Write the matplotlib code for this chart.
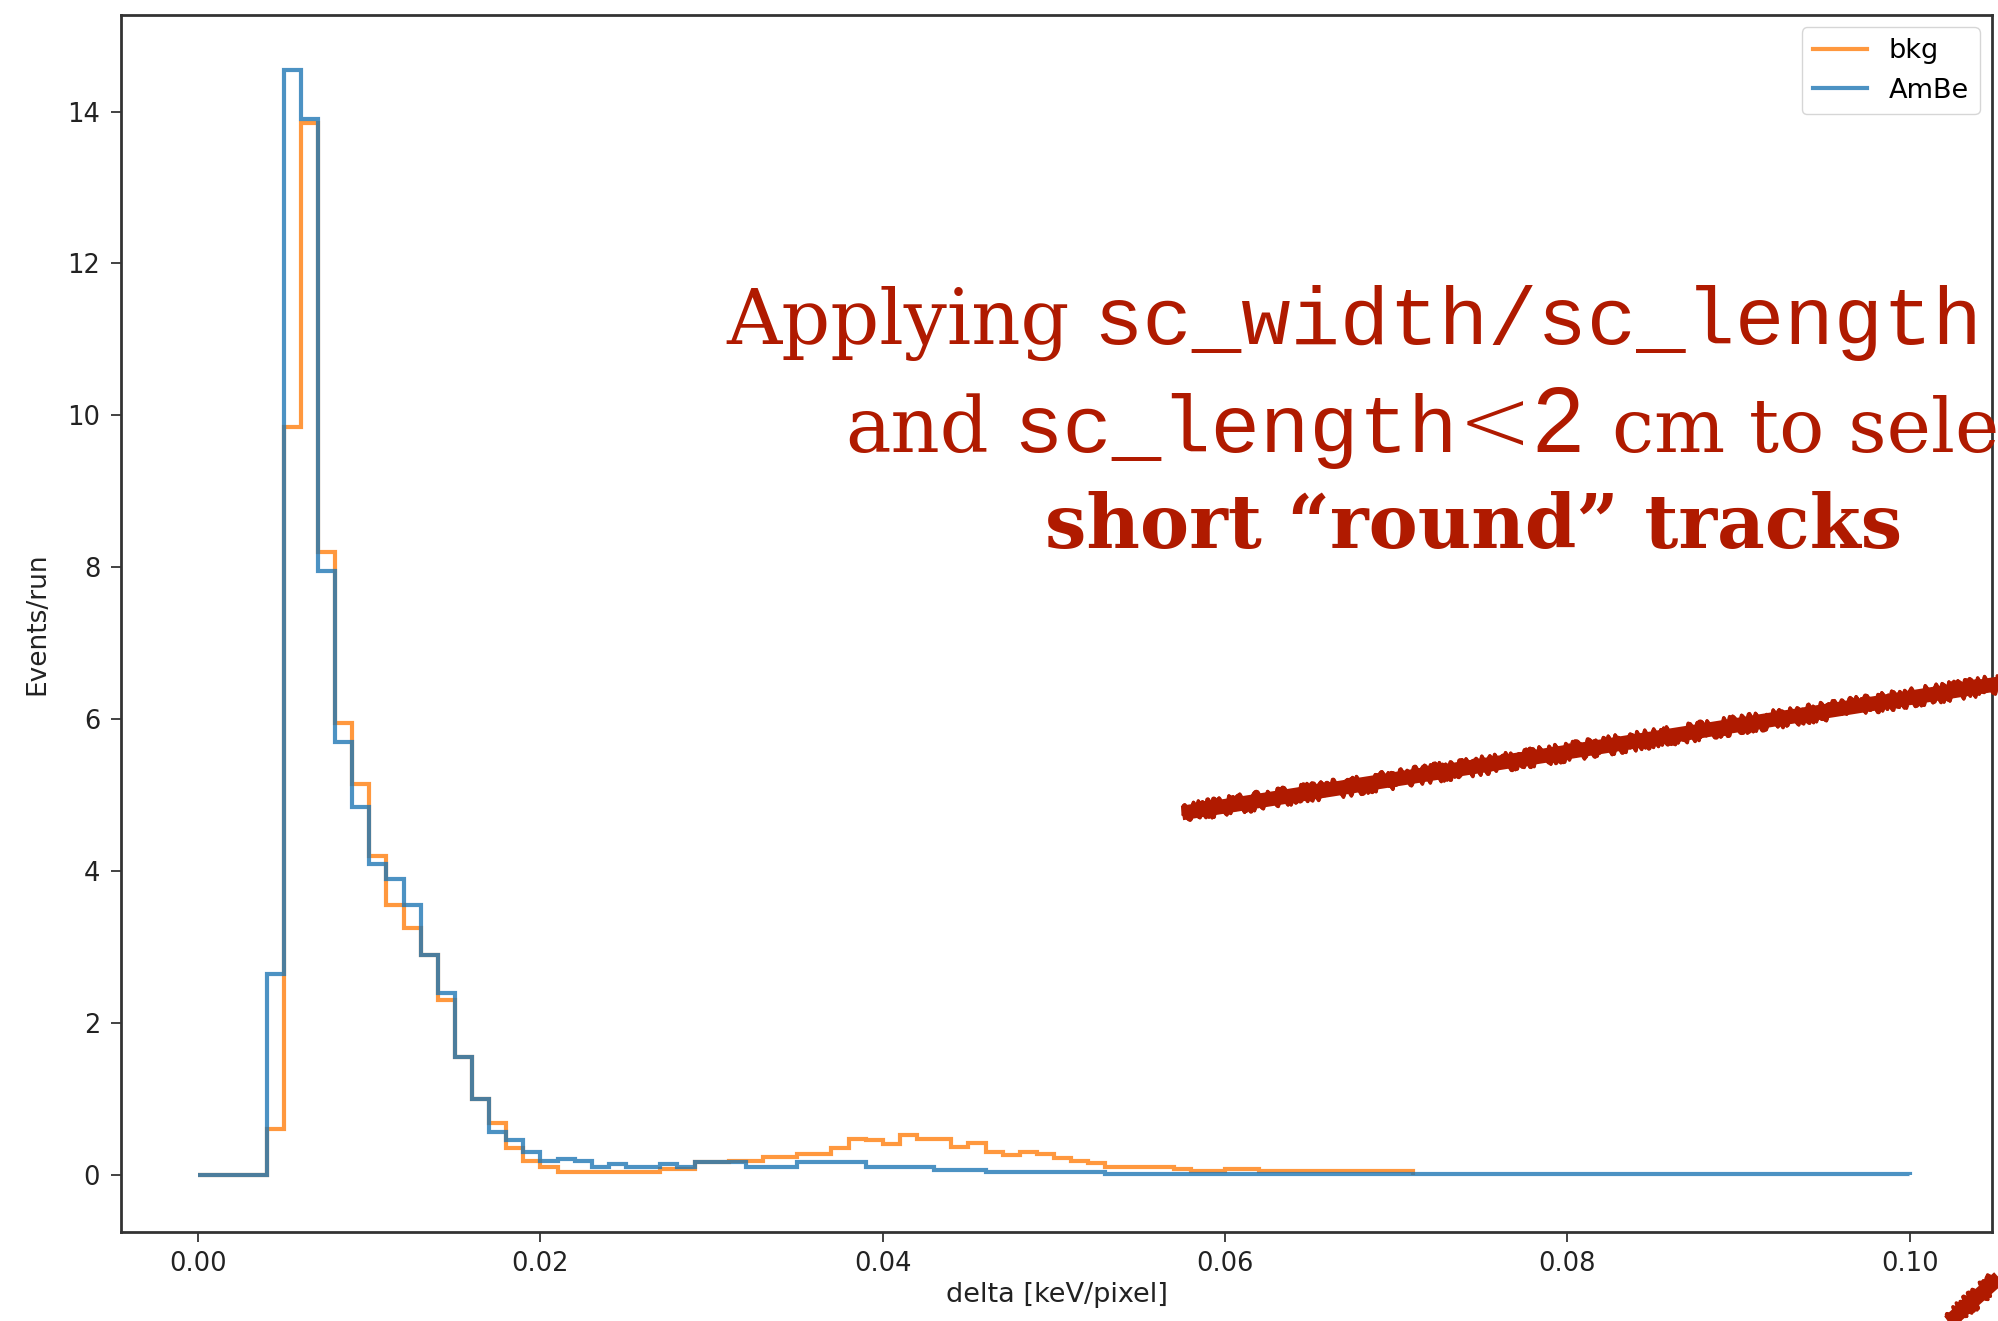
import numpy as np
import matplotlib
matplotlib.use("Agg")
import matplotlib.pyplot as plt
from matplotlib.lines import Line2D

# delta histogram, 1e-3 keV/pixel bins starting at 0
edges = np.linspace(0.0, 0.1, 101)

bkg = [0, 0, 0, 0, 0.6, 9.85, 13.85, 8.2, 5.95, 5.15,
       4.2, 3.55, 3.25, 2.9, 2.3, 1.55, 1.0, 0.68, 0.35, 0.19,
       0.11, 0.04, 0.04, 0.04, 0.04, 0.04, 0.04, 0.08, 0.08, 0.17,
       0.17, 0.19, 0.19, 0.24, 0.24, 0.28, 0.28, 0.35, 0.48, 0.46,
       0.41, 0.52, 0.48, 0.48, 0.37, 0.42, 0.30, 0.26, 0.30, 0.27,
       0.22, 0.19, 0.16, 0.11, 0.11, 0.11, 0.11, 0.075, 0.05, 0.05,
       0.08, 0.08, 0.05, 0.05, 0.05, 0.05, 0.05, 0.05, 0.05, 0.05,
       0.05]

ambe = [0, 0, 0, 0, 2.65, 14.55, 13.9, 7.95, 5.7, 4.85,
        4.1, 3.9, 3.55, 2.9, 2.4, 1.55, 1.0, 0.57, 0.46, 0.30,
        0.19, 0.21, 0.19, 0.11, 0.15, 0.11, 0.11, 0.15, 0.10, 0.17,
        0.17, 0.17, 0.11, 0.11, 0.11, 0.17, 0.17, 0.17, 0.17, 0.11,
        0.11, 0.11, 0.11, 0.07, 0.07, 0.07, 0.04, 0.04, 0.04, 0.04,
        0.04, 0.04, 0.04, 0.01, 0.01, 0.01, 0.01, 0.01, 0.01, 0.01,
        0.01, 0.01, 0.01, 0.01, 0.01, 0.01, 0.01, 0.01, 0.01, 0.01,
        0.01, 0.01, 0.01, 0.01, 0.01, 0.01, 0.01, 0.01, 0.01, 0.01,
        0.01, 0.01, 0.01, 0.01, 0.01, 0.01, 0.01, 0.01, 0.01, 0.01,
        0.01, 0.01, 0.01, 0.01, 0.01, 0.01, 0.01, 0.01, 0.01, 0.01]

x_ticks = [0.00, 0.02, 0.04, 0.06, 0.08, 0.10]
y_ticks = [0, 2, 4, 6, 8, 10, 12, 14]

red = "#b01a00"

fig = plt.figure(figsize=(19.98, 13.21), dpi=100)
ax = fig.add_axes([0.0606, 0.0674, 0.9364, 0.9212])

ax.stairs(bkg, edges[:len(bkg) + 1], color="C1", alpha=0.8, lw=3, label="bkg")
ax.stairs(ambe, edges, color="C0", alpha=0.8, lw=3, label="AmBe")

ax.set_xlim(-0.0045, 0.1048)
ax.set_ylim(-0.75, 15.27)
ax.set_xticks(x_ticks)
ax.set_xticklabels(["%.2f" % v for v in x_ticks])
ax.set_yticks(y_ticks)
ax.tick_params(axis="both", labelsize=18.5, length=7, width=1.2,
               colors="#222222")
ax.tick_params(axis="y", pad=8)
ax.tick_params(axis="x", pad=7)
for sp in ax.spines.values():
    sp.set_linewidth(2)
    sp.set_color("#333333")

ax.set_xlabel("delta [keV/pixel]", fontsize=19.5, color="#222222", labelpad=3)
ax.set_ylabel("Events/run", fontsize=19, color="#222222", labelpad=12)

leg = ax.legend(loc="upper right", fontsize=19.5, handlelength=2.0,
                borderaxespad=0.45)

# slide annotation on top of the plot
def ftext(s, x, y, **kw):
    fig.text(x / 1998, 1 - y / 1321, s, ha="left", va="baseline", color=red, **kw)

ftext("Applying", 726, 344, family="DejaVu Serif", fontsize=55)
ftext("sc_width/sc_length", 1093, 344, family="Liberation Mono", fontsize=59.3)
ftext("and", 845, 452, family="DejaVu Serif", fontsize=55)
ftext("sc_length", 1013, 452, family="Liberation Mono", fontsize=59.3)
ftext("<", 1458, 452, family="DejaVu Sans", fontsize=64, fontweight="light")
ftext("2", 1532, 452, family="Liberation Sans", fontsize=66)
ftext("cm to sele", 1612, 452, family="DejaVu Serif", fontsize=54)
ftext("short \u201cround\u201d tracks", 1045, 548, family="DejaVu Serif",
      fontsize=53, fontweight="bold")

# hand-drawn strokes
strokes = [((1182, 813), (2010, 682)), ((1940, 1330), (2010, 1268))]
for (x0, y0), (x1, y1) in strokes:
    xs = [x0 / 1998, x1 / 1998]
    ys = [1 - y0 / 1321, 1 - y1 / 1321]
    ln = Line2D(xs, ys, transform=fig.transFigure, color=red, lw=10.5,
                solid_capstyle="butt")
    fig.add_artist(ln)
    for w, sc in [(4, 7), (3, 9), (2, 10)]:
        rough = Line2D(xs, ys, transform=fig.transFigure, color=red, lw=w,
                       solid_capstyle="butt")
        rough.set_sketch_params(scale=sc, length=5, randomness=25)
        fig.add_artist(rough)

fig.savefig("out.png", dpi=100)
